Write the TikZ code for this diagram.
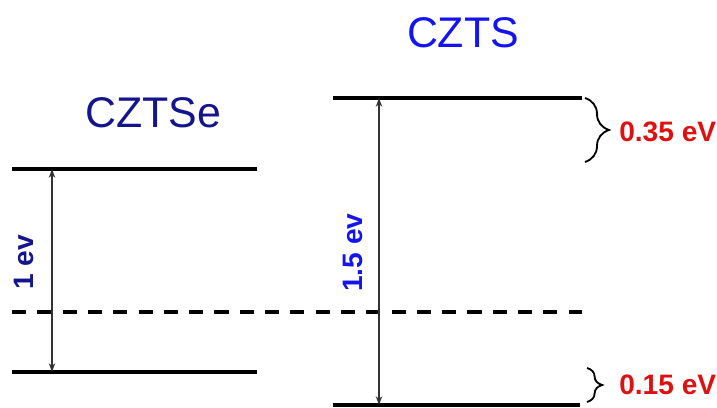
\documentclass[tikz,border=0pt]{standalone}
\usepackage{fontspec}
\setmainfont{Liberation Sans}
\usetikzlibrary{arrows.meta,decorations.pathreplacing}
\definecolor{czseblue}{HTML}{14148C}
\definecolor{czsblue}{HTML}{1414F0}
\definecolor{gapred}{HTML}{E01010}
\definecolor{arrgray}{HTML}{333333}

\begin{document}
\begin{tikzpicture}[
  >={Stealth[length=2.2mm,width=1.6mm]},
  level/.style={line width=3pt},
  gap/.style={<->,arrgray,line width=0.9pt},
  title/.style={font=\fontsize{30.5}{36}\selectfont,anchor=base,inner sep=0pt},
  evlab/.style={font=\fontsize{20}{24}\selectfont\bfseries,rotate=90,anchor=base west,inner sep=0pt},
  offlab/.style={font=\fontsize{20}{24}\selectfont\bfseries,text=gapred,anchor=base west,inner sep=0pt},
  brace/.style={decorate,line width=1.3pt},
]
\useasboundingbox (0,0) rectangle (17.925,10.2);

% ---------- band edges ----------
\coordinate (seCBl) at (0.3,5.975);  \coordinate (seCBr) at (6.425,5.975);
\coordinate (seVBl) at (0.3,0.9);    \coordinate (seVBr) at (6.425,0.9);
\coordinate (sCBl)  at (8.325,7.75); \coordinate (sCBr)  at (14.55,7.75);
\coordinate (sVBl)  at (8.325,0.075);\coordinate (sVBr)  at (14.5,0.075);
\coordinate (midl)  at (0.3,2.4);    \coordinate (midr)  at (14.55,2.4);

\draw[level] (seCBl) -- (seCBr);
\draw[level] (seVBl) -- (seVBr);
\draw[level] (sCBl) -- (sCBr);
\draw[level] (sVBl) -- (sVBr);
\draw[line width=2.2pt,dash pattern=on 10pt off 8pt] (midl) -- (midr);

% ---------- titles ----------
\node[title,text=czseblue] (czse) at (3.825,7.0) {CZTSe};
\node[title,text=czsblue] (czs) at (11.575,9.0) {CZTS};

% ---------- gap arrows ----------
\coordinate (seTop) at (1.3,5.975);  \coordinate (seBot) at (1.3,0.9);
\coordinate (sTop)  at (9.475,7.75); \coordinate (sBot)  at (9.475,0.075);
\draw[gap] (seTop) -- (seBot);
\draw[gap] (sTop) -- (sBot);
\node[evlab,text=czseblue] (gapse) at (0.825,2.95) {1 ev};
\node[evlab,text=czsblue] (gaps) at (9.05,2.9) {1.5 ev};

% ---------- band offsets ----------
\coordinate (cbTop) at (14.625,7.75);  \coordinate (cbBot) at (14.625,6.15);
\coordinate (vbTop) at (14.675,1.0);   \coordinate (vbBot) at (14.675,0.15);
\draw[brace,decoration={brace,amplitude=0.6cm}] (cbTop) -- (cbBot);
\draw[brace,decoration={brace,amplitude=0.38cm}] (vbTop) -- (vbBot);
\node[offlab] (cboff) at (15.475,6.65) {0.35 eV};
\node[offlab] (vboff) at (15.475,0.325) {0.15 eV};

\end{tikzpicture}
\end{document}
